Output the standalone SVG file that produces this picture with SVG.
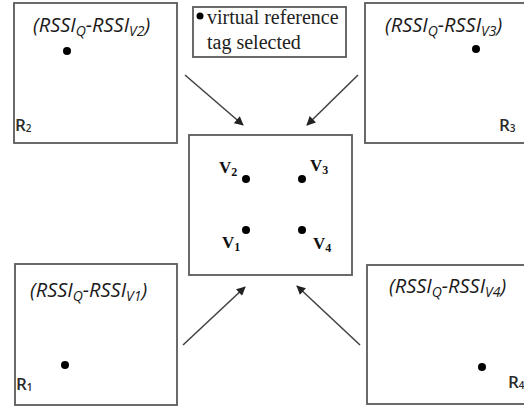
<svg xmlns="http://www.w3.org/2000/svg" width="524" height="409" viewBox="0 0 524 409">
  <defs>
    <marker id="arrowhead" viewBox="0 0 10 10" refX="9" refY="5" markerWidth="10" markerHeight="9" markerUnits="userSpaceOnUse" orient="auto">
      <path d="M0,0 L10,5 L0,10 z" fill="#222"/>
    </marker>
    <style>
      .box { fill: #fff; stroke: #5a5a5a; stroke-width: 1.8; }
      .dot { fill: #000; }
      .rssi { font-family: "Open Sans", "Liberation Sans", sans-serif; font-style: italic; font-size: 20px; fill: #1a1a1a; }
      .sub { font-size: 14px; }
      .rlab { font-family: "Open Sans", "Liberation Sans", sans-serif; font-size: 17px; font-weight: 600; fill: #2a2a2a; }
      .rsub { font-size: 10px; }
      .vlab { font-family: "Liberation Serif", serif; font-weight: bold; font-size: 17px; fill: #111; }
      .vsub { font-size: 12px; }
      .legend { font-family: "Liberation Serif", serif; font-size: 20px; fill: #222; }
      .conn { stroke: #444; stroke-width: 1.6; fill: none; marker-end: url(#arrowhead); }
    </style>
  </defs>

  <rect width="524" height="409" fill="#fff"/>

  <!-- reader R2 -->
  <g id="reader-r2">
    <rect class="box" x="14" y="3" width="163" height="140"/>
    <text class="rssi" x="33" y="32">(RSSI<tspan class="sub" dy="4">Q</tspan><tspan dy="-4">-RSSI</tspan><tspan class="sub" dy="4">V2</tspan><tspan dy="-4">)</tspan></text>
    <circle class="dot" cx="67" cy="51" r="4"/>
    <text class="rlab" x="15" y="131">R<tspan class="rsub" dy="1">2</tspan></text>
  </g>

  <!-- legend -->
  <g id="legend">
    <rect class="box" x="193" y="7" width="153" height="50"/>
    <circle class="dot" cx="200" cy="16" r="3.5"/>
    <text class="legend" x="207" y="24">virtual reference</text>
    <text class="legend" x="207" y="49">tag selected</text>
  </g>

  <!-- reader R3 -->
  <g id="reader-r3">
    <rect class="box" x="365" y="3" width="164" height="140"/>
    <text class="rssi" x="385" y="32">(RSSI<tspan class="sub" dy="4">Q</tspan><tspan dy="-4">-RSSI</tspan><tspan class="sub" dy="4">V3</tspan><tspan dy="-4">)</tspan></text>
    <circle class="dot" cx="476" cy="49" r="4"/>
    <text class="rlab" x="499" y="131">R<tspan class="rsub" dy="1">3</tspan></text>
  </g>

  <!-- virtual reference tags -->
  <g id="virtual-tags">
    <rect class="box" x="189" y="135" width="163" height="140"/>
    <circle class="dot" cx="246" cy="179" r="4"/>
    <circle class="dot" cx="302" cy="179" r="4"/>
    <circle class="dot" cx="246" cy="230" r="4"/>
    <circle class="dot" cx="302" cy="230" r="4"/>
    <text class="vlab" x="219" y="173">V<tspan class="vsub" dy="3">2</tspan></text>
    <text class="vlab" x="310" y="171">V<tspan class="vsub" dy="3">3</tspan></text>
    <text class="vlab" x="222" y="248">V<tspan class="vsub" dy="3">1</tspan></text>
    <text class="vlab" x="313" y="249">V<tspan class="vsub" dy="3">4</tspan></text>
  </g>

  <!-- reader R1 -->
  <g id="reader-r1">
    <rect class="box" x="15" y="264" width="162" height="141"/>
    <text class="rssi" x="30" y="297">(RSSI<tspan class="sub" dy="4">Q</tspan><tspan dy="-4">-RSSI</tspan><tspan class="sub" dy="4">V1</tspan><tspan dy="-4">)</tspan></text>
    <circle class="dot" cx="65" cy="365" r="4"/>
    <text class="rlab" x="16" y="390">R<tspan class="rsub" dy="1">1</tspan></text>
  </g>

  <!-- reader R4 -->
  <g id="reader-r4">
    <rect class="box" x="367" y="265" width="162" height="139"/>
    <text class="rssi" x="389" y="293">(RSSI<tspan class="sub" dy="4">Q</tspan><tspan dy="-4">-RSSI</tspan><tspan class="sub" dy="4">V4</tspan><tspan dy="-4">)</tspan></text>
    <circle class="dot" cx="482" cy="367" r="4"/>
    <text class="rlab" x="508" y="388">R<tspan class="rsub" dy="1">4</tspan></text>
  </g>

  <!-- connectors -->
  <g id="connectors">
    <line class="conn" x1="185" y1="75" x2="243" y2="125"/>
    <line class="conn" x1="358" y1="75" x2="307" y2="125"/>
    <line class="conn" x1="183" y1="345" x2="245" y2="287"/>
    <line class="conn" x1="360" y1="345" x2="297" y2="286"/>
  </g>
</svg>
